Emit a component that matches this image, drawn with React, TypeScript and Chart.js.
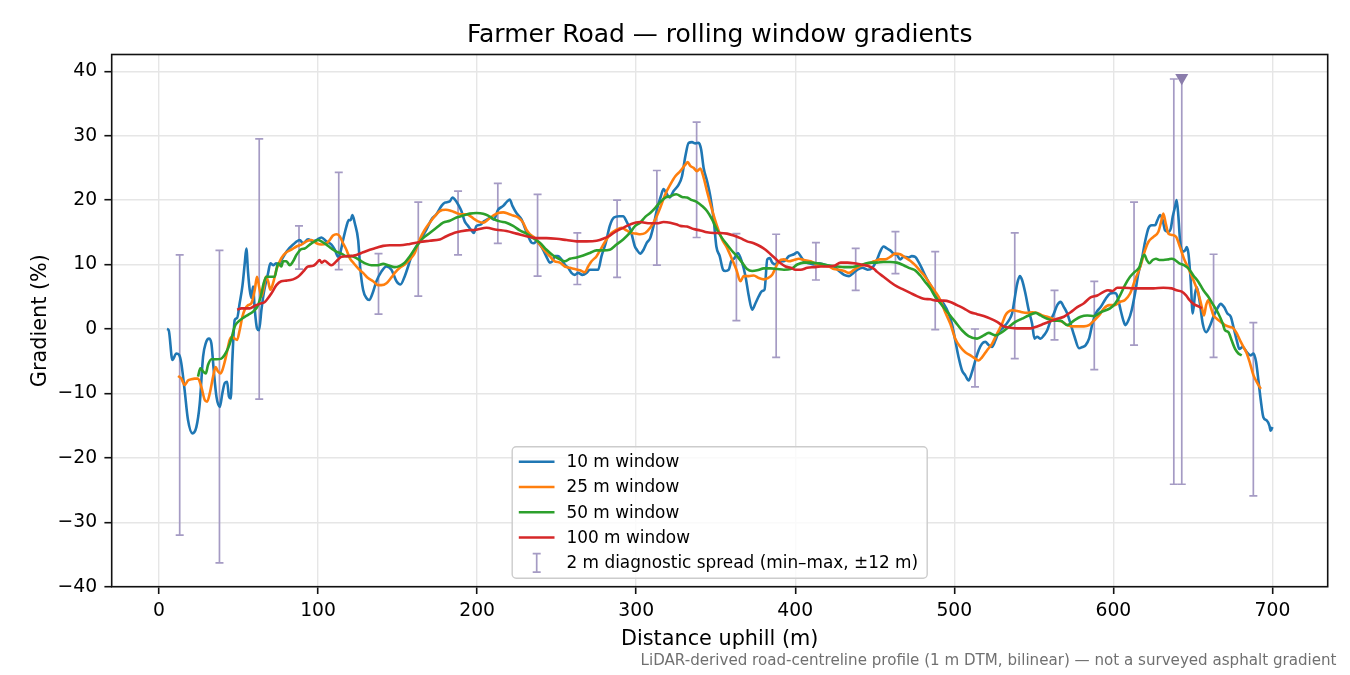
import { useEffect, useRef } from 'react';
import Chart from 'chart.js/auto';

// rolling-window gradients: [distance uphill (m), gradient (%)]
const W10: number[][] = [
  [5, 0], [6.1, -0.2], [8.4, -4.8], [10.9, -3.8], [12.6, -4.0], [14, -5.3], [16.1, -9.5], [18.2, -14.1], [21, -16.2], [23.5, -15.2],
  [25.6, -11.6], [27.7, -4.3], [29.4, -2.2], [31.4, -1.5], [32.9, -2.2], [34.4, -6.4], [36.1, -10.5], [38.2, -12.1], [39.8, -10.0], [41.3, -8.4],
  [42.8, -8.2], [44, -10.5], [45.1, -10.8], [46.1, -4.8], [47.6, 1.4], [49.1, 1.7], [50.7, 4.0], [52.4, 6.6], [53.9, 10.2], [54.9, 12.5],
  [56, 8.7], [57, 6.1], [58.1, 4.8], [59.1, 6.6], [60.2, 3.0], [61.6, 0.1], [62.9, -0.2], [64.4, 3.0], [65.8, 5.5], [67.1, 7.1],
  [68.6, 8.7], [70, 10.2], [71.7, 9.9], [73.8, 10.2], [74.8, 9.9], [76.9, 10.7], [80.1, 12.0], [84.3, 13.1], [88.5, 13.8], [90.6, 13.3],
  [93.7, 13.9], [96.9, 13.6], [99, 13.8], [102.1, 14.2], [105.2, 13.6], [108.4, 13.1], [110.5, 12.3], [112.6, 11.2], [113.6, 11.5], [115.7, 13.8],
  [117.8, 15.9], [119.3, 16.9], [120.5, 16.9], [121.6, 17.7], [123.1, 16.4], [125.2, 13.8], [126.6, 9.2], [128.3, 6.1], [130.4, 4.8], [132.1, 4.5],
  [134.2, 5.5], [136.7, 7.4], [139.8, 8.9], [143, 9.7], [146.1, 9.2], [149.3, 7.4], [151.8, 6.9], [154.5, 8.2], [156.6, 9.7], [158.7, 11.3],
  [161.8, 12.8], [165, 14.1], [168.1, 15.4], [171.3, 17.0], [174.4, 17.8], [177.6, 19.1], [179.7, 19.6], [182.8, 19.8], [184.5, 20.4], [186, 20.1],
  [188.1, 19.3], [190.1, 18.3], [192.2, 16.7], [194.3, 16.0], [196.4, 15.3], [197.9, 14.9], [199.6, 16.0], [202.1, 16.2], [204.2, 16.7], [206.3, 17.0],
  [208.4, 17.3], [210.5, 17.0], [213.2, 18.5], [216.4, 19.1], [218.9, 19.8], [220.5, 20.1], [222.2, 19.1], [224.7, 18.0], [227.9, 17.0], [230, 15.7],
  [232.1, 14.4], [234.2, 13.4], [235.6, 13.3], [237.3, 13.6], [239.4, 13.1], [241.9, 12.1], [244, 11.0], [245.7, 10.3], [247.4, 10.5], [248.8, 11.3],
  [250.9, 11.3], [253, 10.8], [255.1, 10.0], [257.2, 9.5], [259.3, 8.7], [261.4, 8.4], [263.5, 8.7], [266.2, 8.4], [268.8, 8.7], [270.9, 9.2],
  [273.4, 9.2], [276.1, 9.2], [278.2, 11.3], [280.9, 13.4], [283.4, 16.0], [286, 17.3], [289.3, 17.5], [291.8, 17.5], [293.9, 16.7], [296.4, 15.4],
  [299.2, 12.8], [300.4, 12.3], [302.5, 11.7], [304.6, 12.3], [306.7, 13.4], [308.8, 14.1], [310.9, 16.0], [313, 18.5], [315.5, 20.6], [317.2, 21.7],
  [318.9, 21.1], [321, 20.4], [323.5, 21.4], [326.7, 22.4], [328.8, 23.7], [330.9, 26.8], [333, 28.9], [335.1, 29.0], [337.2, 28.8], [339.3, 28.9],
  [340.8, 27.9], [342.4, 25.0], [344.5, 23.0], [346.6, 20.6], [348.7, 17.0], [350.4, 12.8], [352.5, 11.3], [354.6, 9.2], [356.1, 9.0], [358.2, 9.2],
  [359.7, 10.5], [361.8, 11.0], [363.9, 11.8], [366.6, 10.3], [368.7, 8.2], [370.8, 5.1], [372.9, 3.0], [375, 4.0], [377.1, 5.1], [379.2, 5.9],
  [380.7, 6.1], [382.4, 10.8], [384, 11.0], [385.5, 10.3], [387.6, 10.0], [389.7, 10.5], [392.9, 10.5], [396, 11.3], [399.2, 11.6], [401.3, 11.9],
  [403.4, 11.3], [405.5, 10.5], [408.6, 10.2], [411.8, 10.0], [414.9, 10.2], [418.1, 10.0], [421.2, 9.8], [424.4, 9.7], [427.5, 9.0], [430.7, 8.4],
  [433.8, 8.2], [436.6, 8.7], [439.1, 9.2], [442.2, 9.5], [445.4, 9.2], [448.5, 9.5], [451.3, 10.7], [453.4, 12.0], [455.5, 12.8], [457.6, 12.5],
  [459.7, 12.2], [461.8, 11.7], [463.9, 11.5], [466, 10.8], [468.1, 11.2], [471.2, 11.1], [473.3, 11.3], [475.4, 11.2], [477.5, 10.4], [479.6, 9.4],
  [481.7, 8.3], [483.8, 7.3], [487, 6.0], [490.1, 4.7], [493.3, 3.9], [496.4, 2.4], [498.5, 0.8], [500.6, -1.8], [502.7, -4.4], [504.8, -6.4],
  [506.9, -7.2], [509, -8.0], [511.1, -6.7], [513.2, -4.9], [515.3, -3.3], [517.4, -2.3], [519.5, -2.0], [521.6, -2.5], [523.7, -2.8], [525.8, -1.8],
  [527.9, -0.5], [531.1, 0.3], [534.2, 1.3], [536.3, 2.4], [537.8, 4.5], [539.5, 7.0], [541.2, 8.2], [542.6, 7.6], [544.7, 5.5], [546.8, 2.9],
  [548.9, 0.8], [550.4, -1.5], [552.1, -1.2], [554.2, -1.5], [556.3, -1.0], [558.4, -0.2], [560.5, 1.3], [562.6, 2.4], [564.7, 3.7], [566.8, 4.2],
  [568.9, 3.4], [571, 2.4], [573.1, 0.8], [575.6, -1.2], [578.4, -3.0], [580.5, -2.8], [582.6, -2.5], [584.7, -1.5], [586.8, 0.8], [588.9, 2.4],
  [592, 3.4], [595.2, 4.7], [597.9, 5.5], [600, 5.6], [601.7, 5.5], [603.1, 4.5], [604.6, 2.9], [606.3, 1.3], [607.5, 0.6], [609.4, 1.3],
  [611.5, 2.9], [613.6, 5.5], [615.7, 8.6], [617.8, 10.7], [619.9, 13.5], [622, 15.6], [624.1, 16.1], [626.2, 16.1], [627.7, 16.9], [629.4, 17.7],
  [631, 16.9], [632.5, 15.3], [634.6, 15.1], [636.1, 15.6], [637.3, 17.4], [638.8, 19.0], [639.8, 20.0], [640.9, 17.4], [641.9, 13.8], [643.6, 12.0],
  [645.1, 12.2], [646.1, 12.7], [647.2, 11.7], [648.6, 7.6], [649.9, 2.4], [651.4, 5.5], [652.4, 6.5], [654.1, 4.5], [656.2, 0.8], [658.3, -0.5],
  [660.4, 0.3], [662.9, 1.9], [665.4, 3.2], [667.5, 3.9], [669.6, 3.4], [671.7, 2.4], [673.8, 1.9], [675.5, 0.3], [677.6, -1.8], [679.2, -3.1],
  [681.3, -2.8], [683.9, -3.6], [686.4, -4.1], [688.1, -3.8], [689.7, -5.1], [691.2, -8.0], [692.7, -11.1], [694.3, -13.7], [696.4, -14.2], [698.1, -15.0],
  [698.9, -15.8], [700, -15.2],
];

const W25: number[][] = [
  [12, -7.3], [14, -7.7], [16.1, -8.7], [18.2, -8.0], [20.3, -7.8], [22.4, -7.7], [24.5, -7.7], [26.6, -9.0], [28.7, -11.0], [30.2, -11.3],
  [31.9, -10.0], [34, -7.4], [35.6, -5.9], [37.1, -6.6], [38.6, -6.9], [39.8, -6.4], [41.3, -5.1], [42.8, -3.5], [44.4, -1.7], [46.1, -1.2],
  [47.6, -1.5], [49.1, -1.7], [50.7, -0.2], [52.4, 1.9], [53.9, 3.0], [56, 3.7], [58.1, 4.0], [60.2, 6.1], [61.6, 8.1], [62.9, 6.6],
  [64.4, 5.0], [65.8, 6.3], [67.1, 8.1], [68.6, 7.4], [70, 6.1], [71.7, 7.1], [73.8, 9.2], [76.9, 11.0], [80.1, 11.9], [83.2, 12.3],
  [86.4, 12.8], [89.5, 13.1], [92.7, 13.6], [95.8, 13.8], [99, 13.3], [102.1, 13.1], [105.2, 13.3], [107.3, 13.8], [109.4, 14.5], [111.5, 14.7],
  [113.6, 14.4], [115.7, 13.3], [117.8, 12.3], [119.9, 11.0], [122.4, 10.2], [125.2, 9.4], [128.3, 8.7], [131.4, 7.9], [134.6, 7.4], [137.7, 6.8],
  [139.8, 6.8], [143, 7.1], [146.1, 8.0], [148.2, 8.7], [151.4, 9.5], [154.5, 10.0], [157.7, 10.8], [160.8, 11.8], [163.9, 13.9], [167.1, 15.4],
  [170.2, 16.5], [173.4, 17.5], [176.5, 18.3], [180.3, 18.5], [183.9, 18.3], [187, 18.0], [190.1, 17.8], [193.3, 17.8], [196.4, 17.4], [198.5, 17.0],
  [200.6, 16.7], [203.8, 16.5], [206.9, 17.0], [210.1, 17.6], [213.2, 18.0], [216.4, 18.1], [219.5, 17.9], [222.6, 17.6], [225.8, 17.3], [228.9, 16.5],
  [231, 15.4], [233.1, 14.7], [236.3, 14.1], [239.4, 13.1], [242.6, 12.1], [245.7, 11.3], [248.8, 10.5], [252, 10.3], [255.1, 9.7], [258.3, 9.5],
  [261.4, 9.3], [264.6, 9.1], [267.7, 8.8], [269.8, 9.7], [271.9, 10.5], [275.1, 11.3], [278.2, 12.6], [281.3, 13.9], [284.5, 14.9], [287.6, 15.4],
  [290.8, 15.7], [293.9, 15.3], [297.1, 14.9], [300.2, 14.8], [302.5, 14.7], [305.7, 14.9], [308.8, 15.7], [312, 17.0], [315.1, 18.8], [318.3, 20.9],
  [321.4, 22.4], [324.6, 23.7], [327.7, 24.5], [330.9, 25.5], [332.4, 25.9], [334, 25.3], [336.1, 25.0], [338.2, 24.5], [340.3, 24.9], [342.4, 23.5],
  [344.5, 21.4], [347.7, 18.5], [350.8, 16.0], [354, 13.9], [357.1, 12.6], [360.3, 10.8], [363, 9.2], [365.5, 7.4], [367.6, 8.2], [370.8, 8.2],
  [373.9, 8.3], [377.1, 7.9], [380.3, 7.7], [382.8, 7.9], [385.5, 8.4], [387.6, 9.5], [389.7, 10.5], [392.9, 10.8], [396, 10.5], [399.2, 10.7],
  [402.3, 10.9], [405.5, 10.7], [409.7, 10.5], [413.9, 10.0], [417, 9.8], [421.2, 9.7], [424.4, 9.3], [427.5, 9.2], [430.7, 9.0], [433.8, 8.7],
  [437, 9.2], [440.1, 9.7], [443.3, 10.0], [446.4, 10.2], [449.6, 10.5], [453.4, 10.8], [456.5, 10.8], [459.7, 11.2], [462.8, 11.7], [466, 11.6],
  [469.1, 11.1], [472.3, 10.6], [475.4, 9.9], [478.6, 9.0], [481.7, 8.1], [484.9, 6.9], [488, 5.8], [491.2, 4.5], [494.3, 2.6], [497.5, 0.8],
  [500.6, -1.5], [503.8, -2.8], [506.9, -3.6], [510.1, -4.1], [513.2, -4.6], [515.3, -4.9], [517.4, -4.4], [520.6, -3.3], [523.7, -2.3], [526.9, -0.7],
  [530, 0.8], [532.1, 2.1], [533.6, 2.6], [536.3, 2.9], [539.5, 2.8], [542.6, 2.6], [545.8, 2.5], [548.9, 2.6], [552.1, 2.5], [555.3, 2.1],
  [558.4, 1.9], [561.6, 1.6], [564.7, 1.3], [567.9, 1.1], [571, 0.6], [574.2, 0.4], [577.3, 0.4], [581.5, 0.4], [584.7, 0.6], [587.8, 1.3],
  [591, 2.1], [594.1, 3.2], [597.3, 3.7], [601, 3.7], [604.2, 4.2], [607.3, 4.5], [610.5, 5.5], [613.6, 7.6], [616.8, 9.6], [619.9, 12.2],
  [622, 13.5], [625.2, 14.3], [628.3, 15.1], [629.8, 16.4], [631.4, 17.9], [632.9, 16.4], [634.6, 14.8], [636.7, 14.6], [639.4, 14.3], [641.9, 12.7],
  [644.4, 10.9], [647.2, 9.4], [650.3, 7.6], [653.5, 5.5], [655.6, 3.4], [657, 2.1], [658.3, 3.7], [659.7, 4.5], [661.2, 3.4], [662.9, 2.1],
  [665, 1.6], [667.5, 1.1], [670.2, 0.6], [673.4, 0.3], [675.5, 0.1], [677.6, -0.7], [679.7, -1.8], [681.8, -2.8], [683.9, -3.8], [686, -5.4],
  [688.1, -7.2], [690.1, -8.2], [692.7, -9.3],
];

const W50: number[][] = [
  [24.5, -7.4], [26, -6.1], [27.7, -6.6], [29.4, -6.9], [30.8, -5.6], [32.9, -4.7], [36.1, -4.7], [39.2, -4.6], [41.3, -4.0], [43.4, -3.0],
  [45.5, -1.5], [47.6, 0.4], [49.7, 1.1], [52.8, 1.7], [56, 2.2], [59.1, 2.7], [62.3, 3.7], [64.4, 5.5], [65.8, 7.1], [67.5, 8.1],
  [70.6, 8.1], [72.7, 8.1], [74.8, 10.2], [76.9, 9.7], [78, 10.5], [80.1, 10.5], [82.2, 9.9], [84.3, 10.5], [86.4, 11.5], [89.5, 12.4],
  [91.6, 12.5], [94.8, 13.1], [97.9, 13.6], [100, 13.8], [102.1, 13.6], [105.2, 13.1], [108.4, 12.5], [111.5, 12.0], [114.7, 11.7], [117.8, 11.3],
  [121, 11.3], [124.1, 11.0], [127.3, 10.5], [130.4, 10.1], [133.5, 9.9], [137.7, 9.9], [140.9, 10.1], [144, 9.9], [148.2, 9.6], [151.4, 9.8],
  [154.5, 10.3], [157.7, 11.3], [161.8, 12.8], [166, 14.1], [170.2, 14.9], [174.4, 15.7], [178.6, 16.5], [182.8, 16.8], [187, 17.3], [191.2, 17.6],
  [195.4, 17.9], [199.6, 18.0], [203.8, 17.9], [206.9, 17.6], [210.1, 17.1], [214.3, 16.7], [218.4, 16.5], [222.6, 16.0], [226.8, 15.3], [231, 14.8],
  [235.2, 14.1], [239.4, 13.4], [243.6, 12.3], [247.8, 11.4], [252, 10.8], [255.1, 10.5], [258.3, 10.9], [262.5, 11.1], [266.7, 11.4], [270.9, 11.8],
  [275.1, 12.2], [279.2, 12.2], [283.4, 12.3], [287.6, 13.1], [291.8, 13.9], [296, 14.9], [299.4, 16.0], [302.5, 16.5], [305.7, 17.4], [308.8, 18.0],
  [312, 18.8], [315.1, 19.7], [318.3, 20.4], [321.4, 20.6], [325.2, 20.9], [328.8, 20.5], [331.9, 20.4], [335.1, 20.0], [338.2, 19.7], [341.4, 19.1],
  [344.5, 18.3], [347.7, 17.0], [350.8, 15.4], [354, 14.1], [357.1, 13.1], [360.3, 12.1], [363.4, 11.3], [366.6, 10.3], [369.7, 9.3], [372.9, 9.0],
  [376.1, 9.1], [380.3, 9.4], [384.5, 9.4], [388.7, 9.3], [392.9, 9.2], [397.1, 9.3], [401.3, 10.0], [405.5, 10.3], [409.7, 10.3], [413.9, 10.2],
  [418.1, 10.0], [422.3, 9.8], [426.5, 9.7], [430.7, 9.6], [434.9, 9.6], [439.1, 9.8], [443.3, 10.1], [447.5, 10.3], [451.3, 10.3], [455.5, 10.4],
  [459.7, 10.4], [463.9, 10.3], [468.1, 9.9], [472.3, 9.4], [475.4, 9.1], [478.6, 8.3], [481.7, 7.3], [484.9, 6.3], [488, 5.0], [492.2, 3.7],
  [496.4, 2.4], [500.6, 1.1], [504.8, -0.2], [509, -1.1], [514.3, -1.5], [518.5, -1.0], [521.6, -0.6], [525.8, -1.0], [530, -0.5], [534.2, 0.3],
  [538.4, 1.1], [542.6, 1.6], [546.8, 2.1], [551.1, 2.5], [554.2, 2.1], [558.4, 1.6], [562.6, 1.3], [566.8, 1.3], [571, 0.6], [575.2, 1.3],
  [579.4, 1.9], [583.6, 2.1], [587.8, 2.0], [592, 2.6], [597.9, 3.2], [601, 3.9], [604.2, 5.2], [607.3, 6.8], [610.5, 8.1], [613.6, 8.9],
  [616.4, 9.6], [618.4, 11.2], [619.5, 11.5], [621, 10.7], [622.6, 10.2], [624.7, 10.7], [626.8, 10.9], [628.9, 10.7], [631.4, 10.7], [634.6, 10.8],
  [636.7, 10.9], [638.8, 10.7], [641.5, 10.2], [644.4, 9.9], [647.2, 9.4], [650.3, 8.3], [653.5, 7.3], [656.6, 6.0], [659.7, 5.0], [662.9, 3.7],
  [666, 2.4], [668.8, 0.8], [670.2, -0.2], [672.3, -0.5], [674.4, -1.8], [676.5, -3.1], [678.6, -3.8], [680.7, -4.1],
];

const W100: number[][] = [
  [49.1, 3.0], [51.8, 3.2], [54.9, 3.2], [57, 3.2], [60.2, 3.6], [63.3, 3.9], [66.5, 4.2], [68.6, 4.8], [70.6, 5.5], [73.8, 6.8],
  [76.9, 7.4], [80.1, 7.5], [84.3, 7.7], [87.4, 8.1], [90.6, 8.9], [93.7, 9.7], [96.9, 9.8], [99, 10.2], [101, 10.7], [102.1, 10.3],
  [104.2, 10.6], [106.3, 10.2], [108.4, 9.9], [111.5, 10.5], [114.7, 11.2], [119.9, 11.3], [124.1, 11.5], [128.3, 11.9], [132.5, 12.3], [136.7, 12.6],
  [140.9, 12.9], [145.1, 13.0], [151.4, 13.0], [157.7, 13.2], [163.9, 13.5], [170.2, 13.7], [176.5, 13.9], [180.7, 14.4], [187, 15.0], [193.3, 15.3],
  [199.6, 15.4], [205.9, 15.7], [212.2, 15.4], [218.4, 15.2], [224.7, 14.8], [231, 14.4], [237.3, 14.1], [243.6, 14.1], [249.9, 14.0], [256.2, 13.8],
  [262.5, 13.6], [268.8, 13.6], [275.1, 13.7], [279.2, 14.0], [283.4, 14.5], [287.6, 15.2], [291.8, 15.7], [296, 16.2], [302.3, 16.6], [308.8, 16.4],
  [313, 16.4], [317.2, 16.6], [321.4, 16.5], [325.6, 16.2], [327.7, 16.0], [331.9, 15.9], [336.1, 15.5], [340.3, 15.3], [344.5, 15.0], [348.7, 14.9],
  [352.9, 14.9], [357.1, 14.8], [361.3, 14.5], [365.5, 14.1], [369.7, 13.6], [373.9, 13.3], [378.2, 12.8], [381.3, 12.3], [384.5, 11.6], [387.6, 10.9],
  [390.8, 10.2], [393.9, 9.7], [397.1, 9.5], [400.2, 9.2], [403.4, 9.2], [407.6, 9.5], [411.8, 9.6], [416, 9.7], [420.2, 9.7], [424.4, 9.8],
  [428.6, 10.3], [432.8, 10.3], [437, 10.2], [441.2, 10.0], [445.4, 9.8], [449.6, 9.3], [451.3, 8.9], [455.5, 8.1], [459.7, 7.3], [463.9, 6.6],
  [468.1, 6.1], [472.3, 5.6], [476.5, 5.1], [480.7, 4.7], [484.9, 4.6], [489.1, 4.4], [493.3, 4.4], [497.5, 4.2], [501.7, 3.7], [505.9, 3.2],
  [510.1, 2.6], [514.3, 2.3], [518.5, 2.0], [522.7, 1.6], [526.9, 1.1], [531.1, 0.4], [535.3, 0.2], [539.5, 0.1], [543.7, 0.1], [547.9, 0.1],
  [552.1, 0.4], [556.3, 0.8], [560.5, 1.2], [564.7, 1.6], [568.9, 1.9], [573.1, 2.6], [577.3, 3.4], [581.5, 4.0], [585.7, 4.9], [589.9, 5.2],
  [594.1, 5.8], [596.6, 6.0], [599.4, 5.9], [602.5, 6.4], [606.3, 6.4], [612.6, 6.3], [618.9, 6.3], [625.2, 6.3], [631.4, 6.4], [636.7, 6.3],
  [639.8, 6.0], [643, 5.8], [645.7, 5.2], [647.8, 4.5], [650.3, 3.9], [653.5, 3.5], [655.6, 3.2],
];

const SERIES = [W10, W25, W50, W100];
const SERIES_LABELS = ['10 m window', '25 m window', '50 m window', '100 m window'];
const SERIES_COLORS = ['#1f77b4', '#ff7f0e', '#2ca02c', '#d62728'];

// 2 m diagnostic spread (min–max within ±12 m)
const SPREAD_LABEL = '2 m diagnostic spread (min\u2013max, \u00b112 m)';
const SPREAD_X = [13, 38, 63, 88, 113, 138, 163, 188, 213, 238, 263, 288, 313, 338, 363, 388, 413, 438, 463, 488, 513, 538, 563, 588, 613, 638, 643, 663, 688];
const SPREAD_MIN = [-32, -36.3, -10.9, 9.3, 9.2, 2.3, 5.1, 11.5, 13.3, 8.2, 6.9, 8.0, 9.9, 14.2, 1.3, -4.4, 7.6, 6.0, 8.6, -0.1, -9.0, -4.6, -1.7, -6.3, -2.5, -24.1, -24.1, -4.4, -25.9];
const SPREAD_MAX = [11.5, 12.2, 29.5, 16.0, 24.3, 11.7, 19.7, 21.4, 22.6, 20.9, 14.9, 20.0, 24.6, 32.1, 14.8, 14.7, 13.4, 12.5, 15.1, 12.0, 0.0, 14.9, 6.0, 7.4, 19.7, 38.8, 39, 11.6, 1.0];
// spread whose max runs off the top of the axis
const OFFSCALE_X = [643];
const OFFSCALE_Y = [39];

const X_TICKS = [0, 100, 200, 300, 400, 500, 600, 700];
const Y_TICKS = [-40, -30, -20, -10, 0, 10, 20, 30, 40];
const X_MIN = -29.75;
const X_MAX = 734.75;
const Y_MIN = -40;
const Y_MAX = 42.6;

const FONT = 'DejaVu Sans';
const SPREAD_COLOR = '#a59bc4';
const MARKER_COLOR = '#8a7cab';

const decor = {
  id: 'decor',
  beforeDatasetsDraw(chart: any) {
    const { ctx } = chart;
    const xs = chart.scales.x;
    const ys = chart.scales.y;
    ctx.save();
    ctx.strokeStyle = SPREAD_COLOR;
    ctx.lineWidth = 1.7;
    SPREAD_X.forEach((x, i) => {
      const cx = xs.getPixelForValue(x);
      const top = ys.getPixelForValue(SPREAD_MAX[i]);
      const bot = ys.getPixelForValue(SPREAD_MIN[i]);
      ctx.beginPath();
      ctx.moveTo(cx, top);
      ctx.lineTo(cx, bot);
      ctx.moveTo(cx - 4, bot);
      ctx.lineTo(cx + 4, bot);
      if (!OFFSCALE_X.includes(x)) {
        ctx.moveTo(cx - 4, top);
        ctx.lineTo(cx + 4, top);
      }
      ctx.stroke();
    });
    ctx.restore();
  },
  afterDraw(chart: any) {
    const { ctx, chartArea: ca } = chart;
    const midX = (ca.left + ca.right) / 2;
    ctx.save();

    // axes frame
    ctx.strokeStyle = '#111';
    ctx.lineWidth = 1.6;
    ctx.strokeRect(ca.left, ca.top, ca.right - ca.left, ca.bottom - ca.top);

    // title + axis labels
    ctx.fillStyle = '#000';
    ctx.textAlign = 'center';
    ctx.textBaseline = 'alphabetic';
    ctx.font = `25px "${FONT}"`;
    ctx.fillText('Farmer Road \u2014 rolling window gradients', midX, 41.7);
    ctx.font = `20.8px "${FONT}"`;
    ctx.fillText('Distance uphill (m)', midX, 645);
    ctx.save();
    ctx.translate(46, (ca.top + ca.bottom) / 2);
    ctx.rotate(-Math.PI / 2);
    ctx.fillText('Gradient (%)', 0, 0);
    ctx.restore();

    // footnote
    ctx.fillStyle = '#707070';
    ctx.textAlign = 'right';
    ctx.font = `15.1px "${FONT}"`;
    ctx.fillText('LiDAR-derived road-centreline profile (1 m DTM, bilinear) \u2014 not a surveyed asphalt gradient', 1336.5, 665);

    // legend (lower centre)
    const w = 415;
    const h = 131.6;
    const left = midX - w / 2;
    const top = ca.bottom - 8.4 - h;
    ctx.beginPath();
    ctx.roundRect(left, top, w, h, 4);
    ctx.fillStyle = 'rgba(255,255,255,0.8)';
    ctx.fill();
    ctx.strokeStyle = '#cccccc';
    ctx.lineWidth = 1.4;
    ctx.stroke();

    ctx.font = `16.9px "${FONT}"`;
    ctx.textAlign = 'left';
    ctx.textBaseline = 'middle';
    const rowY = (i: number) => top + 15 + i * 25.3;
    SERIES_LABELS.forEach((label, i) => {
      const y = rowY(i);
      ctx.strokeStyle = SERIES_COLORS[i];
      ctx.lineWidth = 2.5;
      ctx.beginPath();
      ctx.moveTo(left + 6.6, y);
      ctx.lineTo(left + 42.3, y);
      ctx.stroke();
      ctx.fillStyle = '#000';
      ctx.fillText(label, left + 54.3, y + 1);
    });
    const ey = rowY(4);
    const ex = left + 24.5;
    ctx.strokeStyle = SPREAD_COLOR;
    ctx.lineWidth = 1.7;
    ctx.beginPath();
    ctx.moveTo(ex, ey - 9.3);
    ctx.lineTo(ex, ey + 9.3);
    ctx.moveTo(ex - 4, ey - 9.3);
    ctx.lineTo(ex + 4, ey - 9.3);
    ctx.moveTo(ex - 4, ey + 9.3);
    ctx.lineTo(ex + 4, ey + 9.3);
    ctx.stroke();
    ctx.fillStyle = '#000';
    ctx.fillText(SPREAD_LABEL, left + 54.3, ey + 1);

    ctx.restore();
  },
};

const minus = (v: number) => (v < 0 ? '\u2212' + Math.abs(v) : String(v));

export default function App() {
  const canvasRef = useRef<HTMLCanvasElement>(null);

  useEffect(() => {
    if (!canvasRef.current) return;

    const lineSets = SERIES.map((pts, i) => ({
      label: SERIES_LABELS[i],
      data: pts.map(([x, y]) => ({ x, y })),
      borderColor: SERIES_COLORS[i],
      backgroundColor: SERIES_COLORS[i],
      borderWidth: 2.6,
      pointRadius: 0,
      cubicInterpolationMode: 'monotone' as const,
      fill: false,
      order: 4 - i,
    }));

    const chart = new Chart(canvasRef.current, {
      type: 'line',
      data: {
        datasets: [
          ...lineSets,
          {
            label: 'off-scale',
            data: OFFSCALE_X.map((x, i) => ({ x, y: OFFSCALE_Y[i] })),
            showLine: false,
            pointStyle: 'triangle',
            rotation: 180,
            pointRadius: 7.5,
            backgroundColor: MARKER_COLOR,
            borderColor: MARKER_COLOR,
            borderWidth: 0,
            order: 0,
          } as any,
        ],
      },
      options: {
        animation: false,
        responsive: true,
        maintainAspectRatio: false,
        events: [],
        layout: { padding: { top: 54.5, right: 22.3, left: 0, bottom: 0 } },
        plugins: {
          legend: { display: false },
          title: { display: false },
          tooltip: { enabled: false },
        },
        scales: {
          x: {
            type: 'linear',
            min: X_MIN,
            max: X_MAX,
            afterBuildTicks: (s: any) => {
              s.ticks = X_TICKS.map((value) => ({ value }));
            },
            afterFit: (s: any) => {
              s.height = 88.3;
            },
            border: { display: false },
            grid: { color: '#e6e6e6', lineWidth: 1.4, tickColor: '#111', tickLength: 7.3, tickWidth: 1.6 },
            ticks: {
              autoSkip: false,
              maxRotation: 0,
              padding: 6,
              color: '#000',
              font: { family: FONT, size: 18.75 },
              callback: (v: any) => minus(Number(v)),
            },
          },
          y: {
            type: 'linear',
            min: Y_MIN,
            max: Y_MAX,
            afterBuildTicks: (s: any) => {
              s.ticks = Y_TICKS.map((value) => ({ value }));
            },
            afterFit: (s: any) => {
              s.width = 111.7;
            },
            border: { display: false },
            grid: { color: '#e6e6e6', lineWidth: 1.4, tickColor: '#111', tickLength: 7.3, tickWidth: 1.6 },
            ticks: {
              autoSkip: false,
              padding: 7.3,
              color: '#000',
              font: { family: FONT, size: 18.75 },
              callback: (v: any) => minus(Number(v)),
            },
          },
        },
      },
      plugins: [decor],
    });

    return () => chart.destroy();
  }, []);

  return (
    <div style={{ position: 'fixed', left: 0, top: 0, width: 1350, height: 675, background: '#fff' }}>
      <canvas ref={canvasRef} />
    </div>
  );
}
